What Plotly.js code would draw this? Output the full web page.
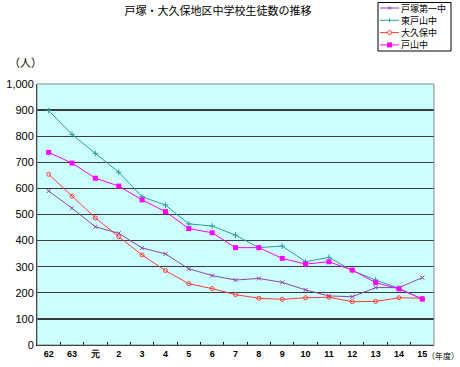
<!DOCTYPE html>
<html><head><meta charset="utf-8">
<script src="https://cdn.plot.ly/plotly-3.0.1.min.js"></script>
<style>html,body{margin:0;padding:0;background:#fff}</style>
</head><body>
<div id="chart" style="width:460px;height:367px"></div>
<script>
const categories = ["62","63","元","2","3","4","5","6","7","8","9","10","11","12","13","14","15"];
const totsuka1 = [590,524,453,428,372,349,292,266,249,255,240,211,188,185,220,220,258];
const higashiToyama = [898,807,734,662,568,536,464,456,421,373,379,319,336,285,249,217,176];
const okubo = [654,570,487,415,345,285,235,216,193,179,175,181,183,166,167,181,179];
const toyama = [738,697,639,609,556,511,446,430,373,373,332,310,319,287,239,215,176];
const seriesNames = ["戸塚第一中","東戸山中","大久保中","戸山中"];
const seriesColors = ['#8E44AD','#2E9E9A','#FF3B30','#FF00FF'];

const jp = '"Noto Sans CJK JP", "Liberation Sans", sans-serif';
const traces = [
  {x: categories, y: totsuka1, name: seriesNames[0], type: 'scatter', mode: 'lines+markers',
   line: {color: seriesColors[0], width: 1}, marker: {symbol: 'x-thin-open', size: 4, color: seriesColors[0], line: {color: seriesColors[0], width: 1}}},
  {x: categories, y: higashiToyama, name: seriesNames[1], type: 'scatter', mode: 'lines+markers',
   line: {color: seriesColors[1], width: 1}, marker: {symbol: 'cross-thin-open', size: 4, color: seriesColors[1], line: {color: seriesColors[1], width: 1}}},
  {x: categories, y: okubo, name: seriesNames[2], type: 'scatter', mode: 'lines+markers',
   line: {color: seriesColors[2], width: 1}, marker: {symbol: 'circle-open', size: 4, color: seriesColors[2], line: {color: seriesColors[2], width: 1}}},
  {x: categories, y: toyama, name: seriesNames[3], type: 'scatter', mode: 'lines+markers',
   line: {color: seriesColors[3], width: 1}, marker: {symbol: 'square', size: 5, color: seriesColors[3]}}
];

// plot-area geometry (pixels) for placing the hand-drawn legend
const PL = 37, PR = 434, PT = 84, PB = 345;
const px = v => (v - PL) / (PR - PL);
const py = v => (PB - v) / (PB - PT);

const LFS = 9;                   // legend font size
const rowY = [8, 20.3, 32.6, 44.9];

const shapes = [
  {type: 'rect', xref: 'paper', yref: 'paper', x0: 0, x1: 1, y0: 0, y1: 1, line: {color: '#888888', width: 1}, layer: 'above'},
  {type: 'rect', xref: 'paper', yref: 'paper', x0: px(378), x1: px(451), y0: py(51), y1: py(2.5), line: {color: '#000', width: 1}, fillcolor: '#fff', layer: 'above'}
];
const annotations = [
  {text: '（人）', xref: 'paper', yref: 'paper', x: -0.03, y: 1.085, xanchor: 'center', yanchor: 'middle', showarrow: false,
   font: {family: jp, size: 11, color: '#000'}},
  {text: '（年度）', xref: 'paper', yref: 'paper', x: px(460), y: py(355), xanchor: 'right', yanchor: 'middle', showarrow: false,
   font: {family: jp, size: 8, color: '#000'}, borderpad: 0}
];
seriesNames.forEach((nm, i) => {
  const c = seriesColors[i], yy = rowY[i], cx = 389.5;
  annotations.push({text: nm, xref: 'paper', yref: 'paper', x: px(400), y: py(yy), xanchor: 'left', yanchor: 'middle',
    showarrow: false, font: {family: jp, size: LFS, color: '#000'}, borderpad: 0});
  shapes.push({type: 'line', xref: 'paper', yref: 'paper', x0: px(380), x1: px(399), y0: py(yy), y1: py(yy), line: {color: c, width: 1}, layer: 'above'});
  if (i === 0) {
    shapes.push({type: 'line', xref: 'paper', yref: 'paper', x0: px(cx-1.5), x1: px(cx+1.5), y0: py(yy-1.5), y1: py(yy+1.5), line: {color: c, width: 1}, layer: 'above'});
    shapes.push({type: 'line', xref: 'paper', yref: 'paper', x0: px(cx-1.5), x1: px(cx+1.5), y0: py(yy+1.5), y1: py(yy-1.5), line: {color: c, width: 1}, layer: 'above'});
  } else if (i === 1) {
    shapes.push({type: 'line', xref: 'paper', yref: 'paper', x0: px(cx), x1: px(cx), y0: py(yy-2), y1: py(yy+2), line: {color: c, width: 1}, layer: 'above'});
  } else if (i === 2) {
    shapes.push({type: 'circle', xref: 'paper', yref: 'paper', x0: px(cx-2), x1: px(cx+2), y0: py(yy+2), y1: py(yy-2), line: {color: c, width: 1}, fillcolor: '#fff', layer: 'above'});
  } else {
    shapes.push({type: 'rect', xref: 'paper', yref: 'paper', x0: px(cx-2.5), x1: px(cx+2.5), y0: py(yy+2.5), y1: py(yy-2.5), line: {color: c, width: 0}, fillcolor: c, layer: 'above'});
  }
});

const layout = {
  width: 460, height: 367,
  margin: {l: PL, r: 460 - PR, t: PT, b: 367 - PB, pad: 0},
  paper_bgcolor: '#ffffff', plot_bgcolor: '#CCFFFF',
  font: {family: jp, size: 11, color: '#000'},
  title: {text: '戸塚・大久保地区中学校生徒数の推移', font: {family: jp, size: 11, color: '#000'},
          x: 0.474, xanchor: 'center', y: 0.97, yanchor: 'middle'},
  showlegend: false,
  xaxis: {type: 'category', range: [-0.5, 16.5], showgrid: false, zeroline: false,
          showline: true, linecolor: '#000', linewidth: 1, mirror: false,
          ticks: 'inside', ticklen: 3, tickcolor: '#000', tickson: 'boundaries',
          tickfont: {family: '"Liberation Sans", Arial, sans-serif', size: 9, color: '#000', weight: 'bold'}},
  yaxis: {range: [0, 1000], dtick: 100, tickformat: ',', showgrid: true, gridcolor: '#3a3a3a', gridwidth: 1.3,
          zeroline: false, showline: true, linecolor: '#000', linewidth: 1, ticks: '',
          tickfont: {family: '"Liberation Sans", Arial, sans-serif', size: 11, color: '#000'}},
  shapes: shapes,
  annotations: annotations
};
Plotly.newPlot('chart', traces, layout, {displayModeBar: false, staticPlot: true});
</script>
</body></html>
